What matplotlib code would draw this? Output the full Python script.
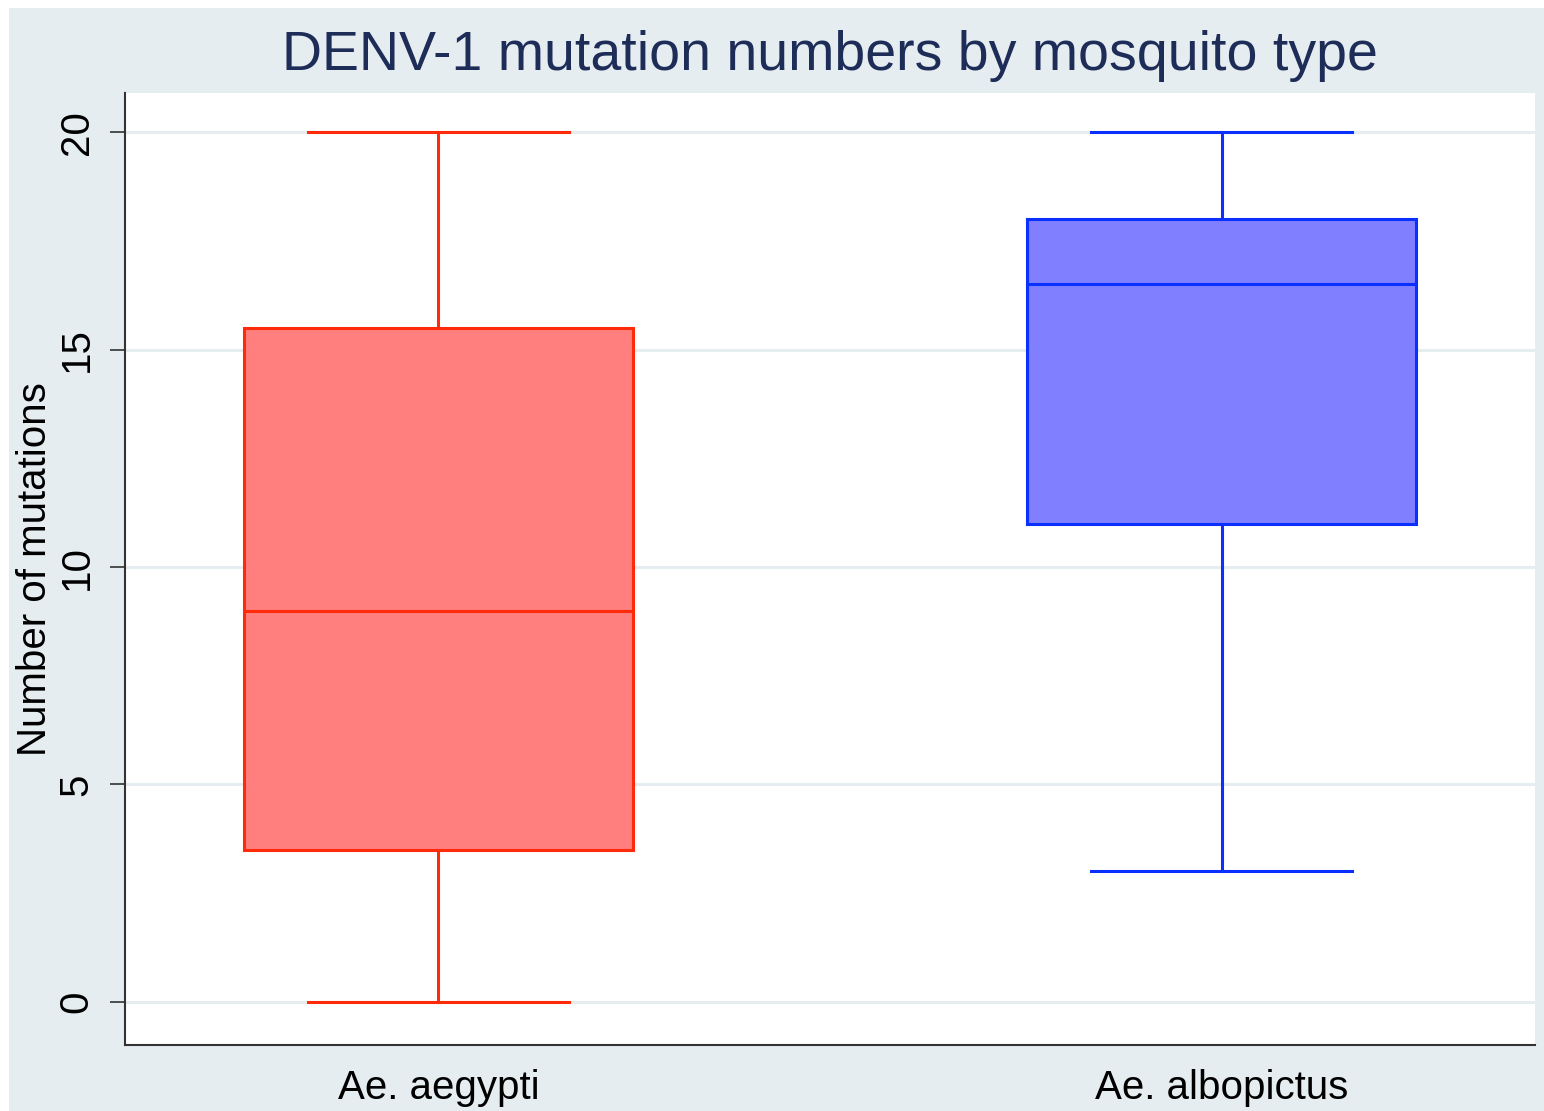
import matplotlib
matplotlib.use("Agg")
import matplotlib.pyplot as plt
from matplotlib.patches import Rectangle

categories = ["Ae. aegypti", "Ae. albopictus"]
whisker_low = [0, 3]
q1 = [3.5, 11]
median = [9, 16.5]
q3 = [15.5, 18]
whisker_high = [20, 20]
yticks = [0, 5, 10, 15, 20]

fill_colors = ["#FF7F7F", "#7F7FFF"]
edge_colors = ["#FF2A0A", "#0A30FF"]
bg = "#E6EDF1"

plt.rcParams['font.family'] = ['Liberation Sans', 'DejaVu Sans']

fig = plt.figure(figsize=(15.44, 11.11), dpi=100)
fig.patch.set_facecolor("white")
W, H = 1544, 1111
fig.patches.append(Rectangle((9 / W, 0), 1 - 9 / W, 1 - 8 / H, transform=fig.transFigure,
                             facecolor=bg, edgecolor="none", zorder=-10))

ax = fig.add_axes([125 / W, 1 - 1045 / H, (1535 - 125) / W, (1045 - 93) / H])
ax.set_facecolor("white")

for i in range(len(categories)):
    st = [dict(med=median[i], q1=q1[i], q3=q3[i], whislo=whisker_low[i], whishi=whisker_high[i],
               fliers=[], label=categories[i])]
    ec = edge_colors[i]
    ax.bxp(st, positions=[i + 1], widths=0.497, capwidths=0.334, patch_artist=True, showfliers=False,
           boxprops=dict(facecolor=fill_colors[i], edgecolor=ec, linewidth=2.2),
           medianprops=dict(color=ec, linewidth=2.2),
           whiskerprops=dict(color=ec, linewidth=2.2),
           capprops=dict(color=ec, linewidth=2.2), zorder=3)

ax.set_xlim(0.6, 2.4)
ax.set_ylim(-0.99, 20.9)
ax.set_xticks([1, 2])
ax.set_xticklabels(categories, fontsize=29)
ax.tick_params(axis="x", length=0, pad=17)
ax.set_yticks(yticks)
ax.set_yticklabels([str(v) for v in yticks], fontsize=29, rotation=90, va="center")
ax.tick_params(axis="y", length=11, width=1.2, color="#333333", pad=10)
ax.yaxis.grid(True, color=bg, linewidth=2.2, zorder=0)
ax.set_axisbelow(True)
for s in ["top", "right"]:
    ax.spines[s].set_visible(False)
for s in ["left", "bottom"]:
    ax.spines[s].set_color("#333333")
    ax.spines[s].set_linewidth(1.5)

ax.set_ylabel("Number of mutations", fontsize=29, labelpad=3)
fig.text((125 + 1535) / 2 / W, 1 - 56 / H, "DENV-1 mutation numbers by mosquito type",
         fontsize=40, color="#1E2C58", ha="center", va="center")

fig.savefig("out.png", dpi=100)
